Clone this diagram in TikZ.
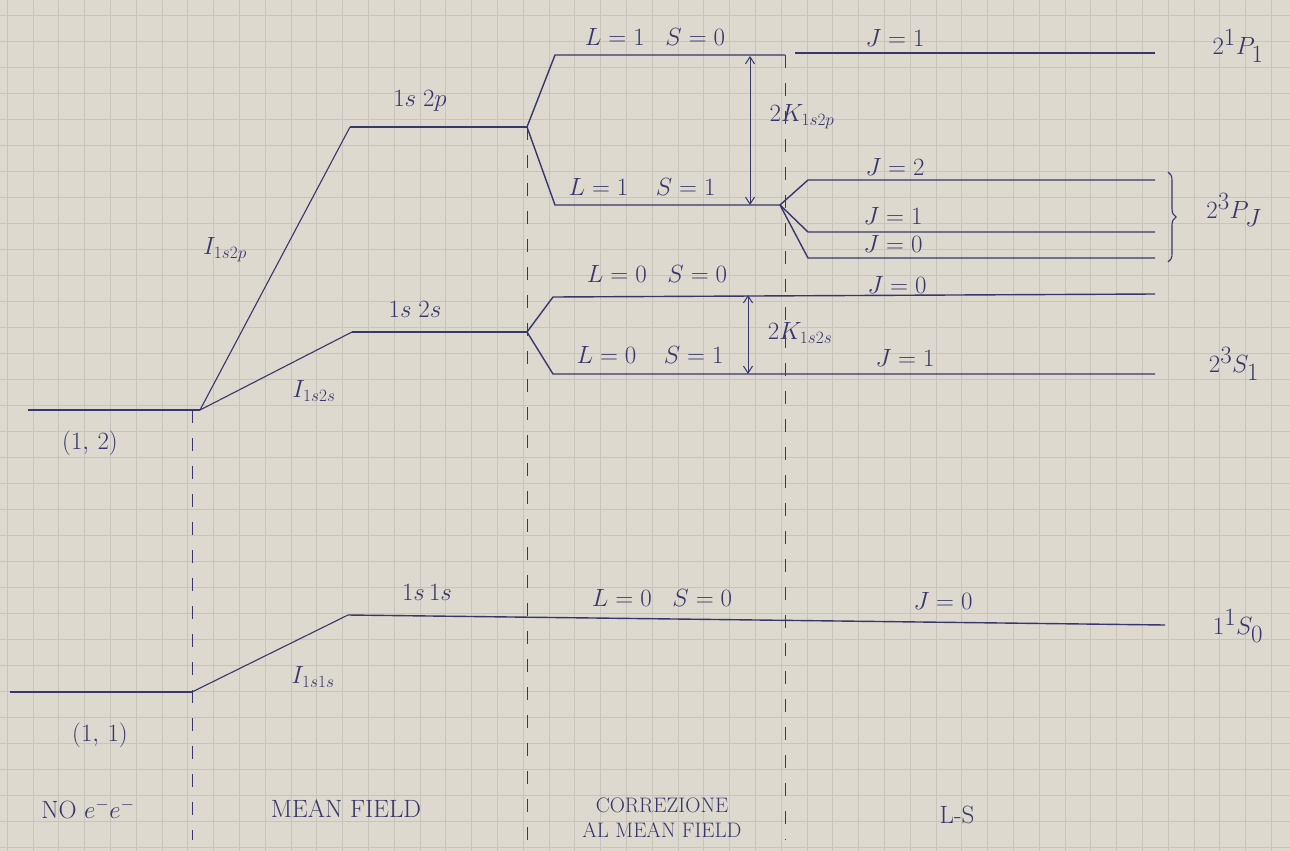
\documentclass[tikz,border=0pt]{standalone}
\usetikzlibrary{arrows.meta,decorations.pathreplacing}
\definecolor{ink}{RGB}{56,54,108}
\definecolor{paper}{RGB}{221,217,207}
\definecolor{gridc}{RGB}{200,196,188}
\tikzset{
  lvl/.style={ink, line width=1.4pt},
  ramp/.style={ink, line width=1.1pt},
  sep/.style={ink, line width=0.9pt, dash pattern=on 13pt off 15pt},
  gap/.style={ink, line width=1pt, {Straight Barb[length=7pt,width=9pt]}-{Straight Barb[length=7pt,width=9pt]}},
  lab/.style={ink, font=\fontsize{26}{29}\selectfont, inner sep=1pt},
  small/.style={ink, font=\fontsize{23}{26}\selectfont, inner sep=1pt},
  term/.style={ink, font=\fontsize{35}{38}\selectfont, inner sep=1pt},
  btm/.style={ink, font=\fontsize{25}{27}\selectfont, inner sep=1pt, align=center},
}
\begin{document}
\begin{tikzpicture}[x=1pt,y=-1pt]
\useasboundingbox (0,0) rectangle (1290,851);
\fill[paper] (0,0) rectangle (1290,851);
\foreach \i in {0,...,50} \draw[gridc, line width=0.6pt] (7+\i*25.8,0) -- (7+\i*25.8,851);
\foreach \j in {0,...,33} \draw[gridc, line width=0.6pt] (0,15+\j*26-26) -- (1290,15+\j*26-26);

% coordinates
\coordinate (g0) at (10,692);
\coordinate (g1) at (192,692);
\coordinate (g2) at (348,615);
\coordinate (g3) at (1165,625);
\coordinate (e0) at (28,410);
\coordinate (e1) at (200,410);
\coordinate (p0) at (350,127);
\coordinate (p1) at (527,127);
\coordinate (s0) at (352,332);
\coordinate (s1) at (527,332);
\coordinate (pa) at (555,55);
\coordinate (pb) at (785,55);
\coordinate (pc) at (795,53);
\coordinate (pd) at (1155,53);
\coordinate (pe) at (555,205);
\coordinate (pf) at (780,205);
\coordinate (j2a) at (808,180);
\coordinate (j2b) at (1155,180);
\coordinate (j1a) at (808,232);
\coordinate (j1b) at (1155,232);
\coordinate (j0a) at (808,258);
\coordinate (j0b) at (1155,258);
\coordinate (sa) at (553,297);
\coordinate (sb) at (1155,294);
\coordinate (sc) at (553,374);
\coordinate (sd) at (1155,374);
\coordinate (k1t) at (750,56);
\coordinate (k1b) at (750,205);
\coordinate (k2t) at (748,295);
\coordinate (k2b) at (748,374);
\coordinate (d1t) at (192,410);
\coordinate (d1b) at (192,840);
\coordinate (d2t) at (527,127);
\coordinate (d2b) at (527,840);
\coordinate (d3t) at (785,55);
\coordinate (d3b) at (785,840);

% separators
\draw[sep] (d1t) -- (d1b);
\draw[sep] (d2t) -- (d2b);
\draw[sep] (d3t) -- (d3b);

% ground state
\draw[lvl] (g0) -- (g1);
\draw[ramp] (g1) -- (g2);
\draw[lvl] (g2) -- (g3);

% excited states
\draw[lvl] (e0) -- (e1);
\draw[ramp] (e1) -- (p0);
\draw[ramp] (e1) -- (s0);
\draw[lvl] (p0) -- (p1);
\draw[lvl] (s0) -- (s1);
\draw[lvl] (p1) -- (pa) -- (pb);
\draw[lvl] (pc) -- (pd);
\draw[lvl] (p1) -- (pe) -- (pf);
\draw[lvl] (pf) -- (j2a) -- (j2b);
\draw[lvl] (pf) -- (j1a) -- (j1b);
\draw[lvl] (pf) -- (j0a) -- (j0b);
\draw[lvl] (s1) -- (sa) -- (sb);
\draw[lvl] (s1) -- (sc) -- (sd);

% exchange splittings
\draw[gap] (k1t) -- (k1b);
\draw[gap] (k2t) -- (k2b);
\node[small] (k1) at (802,117) {$2K_{1s2p}$};
\node[small] (k2) at (800,333) {$2K_{1s2s}$};

% brace
\draw[ink, line width=1.1pt, decorate, decoration={brace, amplitude=8pt}] (1168,172) -- (1168,262);

% labels
\node[lab] (l12) at (90,443) {$(1,\,2)$};
\node[lab] (l11) at (100,735) {$(1,\,1)$};
\node[lab] (n2p) at (420,101) {$1s\;2p$};
\node[lab] (n2s) at (415,309) {$1s\;2s$};
\node[lab] (n1s) at (427,592) {$1s\,1s$};
\node[lab] (i2p) at (225,250) {$I_{1s2p}$};
\node[lab] (i2s) at (314,391) {$I_{1s2s}$};
\node[lab] (i1s) at (313,677) {$I_{1s1s}$};
\node[lab] (ls1) at (655,37) {$L=1\;\;\;S=0$};
\node[lab] (ls2) at (642,187) {$L=1\;\;\;\;S=1$};
\node[lab] (ls3) at (657,274) {$L=0\;\;\;S=0$};
\node[lab] (ls4) at (650,355) {$L=0\;\;\;\;S=1$};
\node[lab] (ls5) at (662,598) {$L=0\;\;\;S=0$};
\node[small] (ja) at (895,38) {$J=1$};
\node[small] (jb) at (895,167) {$J=2$};
\node[small] (jc) at (893,216) {$J=1$};
\node[small] (jd) at (893,244) {$J=0$};
\node[small] (je) at (897,285) {$J=0$};
\node[lab] (jf) at (905,358) {$J=1$};
\node[lab] (jg) at (943,601) {$J=0$};
\node[term] (t1) at (1238,46) {$2^1P_1$};
\node[term] (t2) at (1234,210) {$2^3P_J$};
\node[term] (t3) at (1234,364) {$2^3S_1$};
\node[term] (t4) at (1238,626) {$1^1S_0$};

% regions
\node[btm] (r1) at (88,809) {NO $e^-e^-$};
\node[btm] (r2) at (346,809) {MEAN FIELD};
\node[btm, font=\fontsize{21}{25}\selectfont] (r3) at (662,818) {CORREZIONE\\AL MEAN FIELD};
\node[btm] (r4) at (957,815) {L-S};
\end{tikzpicture}
\end{document}
